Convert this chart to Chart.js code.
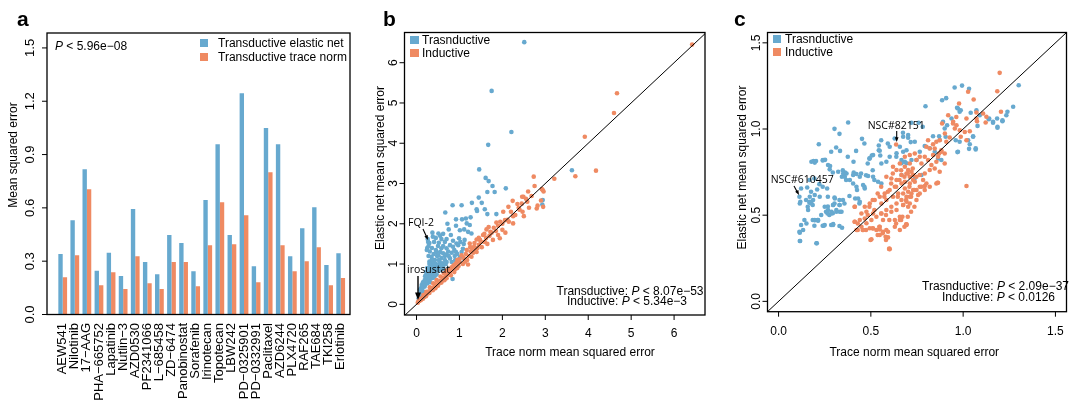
<!DOCTYPE html>
<html><head><meta charset="utf-8">
<script src="https://cdn.jsdelivr.net/npm/chart.js@4/dist/chart.umd.min.js"></script>
<style>
body{margin:0;background:#fff;width:1071px;height:403px;overflow:hidden;position:relative}
canvas{position:absolute;left:0;top:0}
</style></head><body>
<canvas id="ca" width="1071" height="403"></canvas>
<canvas id="cb" width="1071" height="403"></canvas>
<canvas id="cc" width="1071" height="403"></canvas>
<script>
// ---------- DATA ----------
const drugs = ["AEW541","Nilotinib","17−AAG","PHA−665752","Lapatinib","Nutlin−3","AZD0530","PF2341066","L−685458","ZD−6474","Panobinostat","Sorafenib","Irinotecan","Topotecan","LBW242","PD−0325901","PD−0332991","Paclitaxel","AZD6244","PLX4720","RAF265","TAE684","TKI258","Erlotinib"];
const elasticNet = [0.34,0.53,0.818,0.246,0.347,0.216,0.593,0.295,0.227,0.447,0.403,0.244,0.644,0.958,0.447,1.245,0.272,1.05,0.958,0.328,0.486,0.604,0.278,0.345];
const traceNorm  = [0.21,0.334,0.705,0.165,0.238,0.144,0.328,0.176,0.144,0.295,0.295,0.159,0.39,0.632,0.396,0.559,0.182,0.80,0.39,0.244,0.30,0.379,0.165,0.205];
const yTicksA = [0,0.3,0.6,0.9,1.2,1.5];
const ticksB = [0,1,2,3,4,5,6];
const ticksC = [0,0.5,1,1.5];
const identityLine = [-1, 8];

const bTransductive = [[2.51,6.51],[1.75,5.30],[2.21,4.28],[1.67,3.96],[1.46,3.35],[1.61,3.14],[1.68,3.06],[1.77,2.94],[1.65,2.79],[1.82,2.79],[2.08,2.88],[1.45,2.65],[3.62,3.33],[2.94,2.59],[2.93,2.48],
[1.29,2.52],[1.52,2.52],[0.84,2.46],[1.05,2.46],[1.40,2.36],[1.59,2.36],[1.41,2.32],[1.65,2.24],[1.86,2.24],[0.67,2.28],[1.26,2.16],[0.92,2.11],[1.06,2.11],[1.15,2.13],[1.17,2.01],[1.24,1.97],[0.72,2.00],[0.92,1.95],[1.01,1.84],[0.75,1.86],[1.11,1.86],[1.20,1.80],[1.28,1.76],[0.51,1.76],[0.62,1.75],[0.37,1.78],[0.80,1.72],[0.99,1.64],[0.85,1.58],[0.27,1.55],[0.41,1.55],[0.52,1.53],[0.66,1.55],[0.93,1.51],[0.78,1.47],[0.58,1.39],[0.70,1.39],[0.45,1.35],[0.85,1.43],[0.97,1.47],[0.31,1.31],[0.35,1.18],[0.51,1.22],[0.62,1.27],[0.74,1.31],[0.43,1.10],[0.54,1.06],[0.66,1.10],[0.30,1.06],[0.78,1.14],[0.89,1.20],[1.01,1.17],[0.84,0.63],[0.43,0.93],[0.51,0.85],[0.35,0.81],[0.27,0.73],[0.19,0.60],[0.27,0.60],[0.12,0.48],[0.19,0.44],[0.08,0.36],[0.16,0.31],[0.62,0.93],[0.74,0.89],
[0.30,1.00],[0.35,1.02],[0.40,1.05],[0.45,1.00],[0.50,0.98],[0.55,1.00],[0.60,1.02],[0.25,0.90],[0.32,0.92],[0.38,0.95],[0.48,0.90],[0.56,0.92],[0.22,0.80],[0.30,0.85],[0.40,0.85],[0.45,0.82],[0.55,0.86],[0.60,0.84],[0.20,0.70],[0.25,0.68],[0.32,0.72],[0.38,0.75],[0.42,0.70],[0.47,0.74],[0.15,0.55],[0.22,0.58],[0.30,0.62],[0.35,0.65],[0.40,0.66],[0.10,0.40],[0.14,0.42],[0.20,0.50],[0.25,0.52],[0.32,0.55],[0.06,0.25],[0.10,0.28],[0.13,0.36],[0.05,0.15],[0.08,0.20],[0.36,1.12],[0.28,1.20],[0.40,1.25],[0.46,1.30],[0.55,1.30],[0.66,1.20],[0.70,1.24],[0.75,1.20],[0.82,1.28],[0.92,1.30],[0.24,1.35],[0.36,1.40],[0.50,1.45],[0.62,1.45],[0.70,1.62],[0.58,1.62],[0.45,1.65],[0.55,1.70],[0.25,1.40],[0.30,1.52],[0.26,1.62],[0.38,1.68],[0.28,1.45],[0.68,1.00],[0.70,1.05],[0.82,1.05],[0.90,1.10],[0.95,1.25],[1.05,1.30],[1.08,1.38],[0.88,1.35],[1.02,1.55],[1.10,1.50],[1.12,1.60],[0.48,1.20],[0.58,1.15],[0.52,1.10]];

const bInductive = [[6.42,6.45],[4.67,5.24],[4.60,4.75],[3.92,4.16],[4.18,3.32],[3.70,3.18],[3.21,3.12],[2.73,3.17],[2.75,2.94],[2.92,2.86],[2.94,2.84],[2.46,2.67],[2.68,2.69],[2.49,2.67],[2.95,2.42],[2.80,2.38],[2.24,2.57],[2.47,2.30],[2.50,2.19],[2.25,2.01],[2.07,1.78],[1.94,1.64],[2.25,2.19],[2.02,2.30],[2.14,2.42],[2.35,2.49],[2.06,2.09],[1.86,2.03],[1.63,1.86],[1.72,1.80],[1.55,1.72],[1.40,1.61],[1.59,1.55],[1.24,1.51],[1.34,1.43],[1.17,1.35],[1.26,1.31],[1.05,1.22],[1.13,1.06],[1.20,0.99],[0.95,1.10],[0.89,0.98],[0.82,0.92],[0.71,0.84],[0.64,0.77],[0.56,0.69],[0.47,0.60],[0.39,0.52],[0.31,0.42],[0.23,0.31],[0.16,0.23],[0.08,0.13],[0.04,0.07],
[1.95,2.05],[1.80,1.90],[1.70,1.70],[1.50,1.55],[1.45,1.48],[1.38,1.35],[1.30,1.38],[1.10,1.15],[1.00,1.05],[0.98,0.95],[0.90,0.88],[0.85,0.90],[0.78,0.80],[0.75,0.74],[0.68,0.70],[0.62,0.66],[0.60,0.60],[0.55,0.58],[0.52,0.52],[0.45,0.50],[0.42,0.44],[0.36,0.40],[0.33,0.35],[0.28,0.32],[0.25,0.26],[0.20,0.24],[0.18,0.18],[0.12,0.15],[0.10,0.10],[0.06,0.08],[0.03,0.04],[1.15,1.25],[1.22,1.20],[1.32,1.28],[1.42,1.40],[1.48,1.60],[1.62,1.65],[1.75,1.78],[1.85,1.82],[1.68,1.92],[1.90,1.95],[2.00,2.00],[2.12,2.10],[2.20,2.30],[2.30,2.22],[2.38,2.40],[2.45,2.50],[2.58,2.55],[2.60,2.80],[2.55,2.62],[1.78,1.60],[1.65,1.50],[1.52,1.42],[1.40,1.30],[1.28,1.18],[1.18,1.10],[1.08,1.00],[0.95,0.90],[0.88,0.80],[0.80,0.72],[0.70,0.65],[0.65,0.60],[0.58,0.54],[0.50,0.46],[0.44,0.40],[0.38,0.35],[0.30,0.28],[0.22,0.20],[0.15,0.14],[1.00,1.12],[0.92,1.02],[0.86,0.96],[0.78,0.88],[0.72,0.78],[1.25,1.42],[1.35,1.52],[1.45,1.65],[1.58,1.75],[2.40,2.35],[2.62,2.40],[2.82,2.45],[2.90,2.58],[2.96,2.80],[1.90,1.72],[2.00,1.85],[2.15,2.05]];

const cTransductive = [[0.377,1.038],[0.303,1.001],[0.330,0.972],[0.218,0.912],[0.285,0.868],[0.312,0.893],[0.333,0.873],[0.420,0.873],[0.452,0.943],[0.465,0.916],[0.505,0.846],[0.543,0.904],[0.543,0.877],[0.556,0.935],[0.551,0.846],[0.592,0.916],[0.375,0.839],[0.406,0.810],[0.189,0.814],[0.203,0.814],[0.239,0.818],[0.252,0.821],[0.279,0.785],[0.294,0.748],[0.348,0.761],[0.360,0.748],[0.407,0.748],[0.447,0.742],[0.474,0.732],[0.519,0.704],[0.465,0.665],[0.425,0.646],[0.384,0.611],[0.415,0.597],[0.438,0.568],[0.357,0.568],[0.330,0.559],[0.303,0.568],[0.267,0.550],[0.257,0.520],[0.231,0.501],[0.275,0.501],[0.294,0.511],[0.176,0.636],[0.209,0.649],[0.239,0.665],[0.263,0.655],[0.155,0.661],[0.167,0.704],[0.194,0.713],[0.221,0.680],[0.122,0.655],[0.113,0.607],[0.118,0.578],[0.149,0.588],[0.167,0.572],[0.185,0.559],[0.158,0.549],[0.140,0.472],[0.122,0.443],[0.113,0.404],[0.185,0.472],[0.212,0.472],[0.194,0.439],[0.239,0.439],[0.285,0.443],[0.117,0.350],[0.207,0.337],[0.330,0.437],[0.267,0.607],[0.303,0.603],[0.330,0.588],[0.343,0.723],[0.366,0.704],[0.492,0.828],[0.510,0.761],[0.483,0.800],
[0.954,1.241],[0.994,1.252],[1.032,1.233],[0.908,1.179],[0.886,1.167],[0.796,1.132],[0.967,1.123],[0.987,1.109],[1.041,1.094],[1.072,1.109],[1.301,1.254],[1.271,1.129],[1.240,1.100],[1.213,1.045],[1.184,1.061],[1.162,1.036],[1.139,1.057],[1.186,1.007],[1.078,1.018],[1.054,0.958],[1.027,0.935],[0.960,0.935],[1.032,0.885],[1.068,0.881],[0.969,0.866],[0.891,1.042],[0.913,1.022],[0.781,1.013],[0.759,1.036],[0.720,1.036],[0.674,0.978],[0.702,0.949],[0.738,0.926],[0.716,0.924],[0.792,0.901],[0.693,0.877],[0.675,0.868],[0.837,0.958],[0.870,0.958],[0.846,0.868],[0.684,0.810],[0.720,0.820],[0.666,0.733],[0.774,0.733],[0.738,0.714],[0.864,0.829],[0.882,0.820],
[0.178,0.810],[0.196,0.805],[0.241,0.820],[0.268,0.791],[0.277,0.766],[0.323,0.752],[0.350,0.742],[0.368,0.742],[0.359,0.723],[0.404,0.733],[0.422,0.739],[0.386,0.704],[0.404,0.684],[0.422,0.665],[0.467,0.655],[0.458,0.675],[0.440,0.723],[0.485,0.727],[0.512,0.723],[0.539,0.694],[0.557,0.684],[0.431,0.597],[0.440,0.578],[0.169,0.607],[0.187,0.588],[0.178,0.568],[0.223,0.607],[0.250,0.549],[0.268,0.530],[0.295,0.559],[0.313,0.530],[0.286,0.510],[0.332,0.520],[0.196,0.472],[0.214,0.472],[0.250,0.443],[0.295,0.443],[0.205,0.337],[0.494,0.830],[0.602,0.839],[0.639,0.859],[0.666,0.820],[0.557,0.800],[0.584,0.810],
[0.115,0.568],[0.169,0.578],[0.196,0.617],[0.115,0.398],[0.133,0.414],[0.151,0.452],[0.115,0.350],[0.196,0.471],[0.214,0.468],[0.245,0.439],[0.296,0.448],[0.344,0.427],[0.265,0.510],[0.287,0.520],[0.314,0.520],[0.341,0.520],[0.331,0.559],[0.296,0.559],[0.349,0.588],[0.305,0.597],[0.160,0.530],
[0.675,0.955],[0.702,0.965],[0.629,0.945],[0.657,0.897],[0.602,0.897],[0.548,0.874],[0.512,0.849],[0.638,0.839],[0.666,0.801],[0.693,0.801],[0.747,0.820],[0.765,0.868],[0.819,0.888],[0.873,0.936],[0.905,0.955],[0.981,0.926],[1.036,0.912],[1.068,0.888],[0.972,0.868],[0.900,1.003],[0.937,1.061],[0.972,1.119],[0.981,1.100],[1.054,0.955],[1.090,1.080],[1.141,1.061],[1.162,1.042],[1.186,1.013],[1.213,1.051],[1.234,1.080]];

const cInductive = [[0.637,0.910],[0.600,0.307],[0.412,0.549],[0.429,0.452],[0.456,0.414],[0.474,0.414],[0.510,0.424],[0.546,0.433],[0.483,0.501],[0.519,0.530],[0.556,0.510],[0.582,0.501],[0.600,0.472],[0.537,0.385],[0.564,0.395],[0.582,0.356],[0.637,0.452],[0.664,0.472],[0.682,0.433],[0.700,0.491],[0.718,0.520],[0.736,0.549],[0.492,0.549],[0.510,0.588],[0.537,0.626],[0.556,0.665],[0.573,0.607],[0.592,0.636],[0.610,0.684],[0.637,0.665],[0.655,0.704],[0.682,0.723],[0.700,0.742],[0.664,0.761],[0.727,0.771],[0.619,0.742],[0.646,0.607],[0.691,0.588],[0.718,0.607],[0.736,0.646],[0.709,0.665],
[1.198,1.326],[1.185,1.219],[1.205,1.100],[1.122,1.038],[1.075,1.045],[1.108,1.090],[1.072,1.096],[1.027,1.216],[1.057,1.171],[0.978,1.148],[0.919,1.080],[0.886,1.032],[0.946,1.042],[0.964,1.022],[0.955,1.003],[0.982,0.993],[1.009,0.983],[1.036,0.987],[1.018,0.935],[0.987,0.955],[0.901,0.974],[0.927,0.951],[0.909,0.926],[0.873,0.935],[0.855,0.926],[0.837,0.912],[0.810,0.935],[0.801,0.897],[0.819,0.887],[0.846,0.887],[0.882,0.877],[0.900,0.858],[0.870,0.858],[0.837,0.849],[0.792,0.839],[0.765,0.839],[0.738,0.858],[0.711,0.849],[0.684,0.839],[0.747,0.820],[0.774,0.800],[0.810,0.820],[0.828,0.791],[0.855,0.810],[0.846,0.771],[0.873,0.752],[0.819,0.762],[0.792,0.742],[0.765,0.733],[0.729,0.733],[0.702,0.762],[0.711,0.723],[0.684,0.694],[0.738,0.694],[0.765,0.665],[0.792,0.669],[0.729,0.646],[0.702,0.636],[0.675,0.626],[0.711,0.607],[0.756,0.617],[0.693,0.578],[0.675,0.559],[0.702,0.549],[1.018,0.669],[0.861,0.688],[0.671,0.491],[0.693,0.447],[0.657,0.472],[1.126,1.071],[0.963,1.070],[1.018,1.061],[1.072,1.061],[0.945,1.032],
[0.584,0.723],[0.611,0.713],[0.639,0.704],[0.666,0.733],[0.693,0.742],[0.720,0.752],[0.747,0.723],[0.783,0.704],[0.801,0.684],[0.774,0.665],[0.747,0.646],[0.720,0.626],[0.693,0.607],[0.666,0.588],[0.639,0.568],[0.611,0.549],[0.584,0.530],[0.557,0.510],[0.530,0.491],[0.503,0.472],[0.476,0.453],[0.449,0.433],[0.422,0.414],[0.458,0.414],[0.494,0.424],[0.530,0.414],[0.548,0.385],[0.593,0.371],[0.503,0.360],[0.602,0.303],[0.693,0.443],[0.657,0.491],[0.630,0.472],[0.611,0.520],[0.639,0.530],[0.675,0.559],[0.711,0.568],[0.747,0.588],[0.765,0.626],[0.792,0.646],[0.819,0.665],[0.855,0.684],[0.900,0.800],[0.864,0.839],[0.882,0.868],[0.711,0.800],[0.684,0.781],[0.657,0.800],[0.620,0.781],[0.639,0.762],[0.666,0.684],[0.630,0.665],[0.602,0.646],[0.575,0.626],[0.548,0.607],[0.521,0.588],[0.494,0.568],[0.467,0.549],[0.476,0.520],[0.512,0.510],[0.557,0.568],[0.584,0.588],[0.620,0.607],[0.648,0.626],[0.684,0.655],[0.711,0.684],[0.729,0.704],[0.413,0.549],[0.449,0.510],[0.440,0.472],[0.467,0.481],[0.413,0.462],[0.548,0.433],[0.584,0.414],[0.630,0.433],[0.657,0.414],[0.566,0.472],
[0.412,0.462],[0.429,0.414],[0.498,0.356],[0.512,0.423],[0.548,0.417],[0.566,0.404],[0.593,0.404],[0.599,0.304],[0.580,0.375],[0.692,0.447],[0.864,0.688]];

// ---------- STYLE / LAYOUT ----------
const FONT = '"Liberation Sans", Arial, Helvetica, sans-serif';
const ANN = '"Open Sans", "DejaVu Sans", sans-serif';
const BLUE = '#67a9cf', ORANGE = '#ef8a62';
const W = 1071, H = 403;
const AREA_A = {left:47, top:33, right:350, bottom:314.5};
const AREA_B = {left:404.5, top:32.5, right:705, bottom:315};
const AREA_C = {left:767.5, top:32.5, right:1066.5, bottom:311.7};
const pad = a => ({left:a.left, top:a.top, right:W-a.right, bottom:H-a.bottom});

function text(ctx, s, x, y, font, align, base, rot) {
  ctx.save(); ctx.font = font; ctx.fillStyle = '#000';
  ctx.textAlign = align || 'center'; ctx.textBaseline = base || 'middle';
  ctx.translate(x, y); if (rot) ctx.rotate(rot);
  ctx.fillText(s, 0, 0); ctx.restore();
}
function rich(ctx, parts, x, y, size, align) {
  ctx.save(); ctx.textBaseline = 'middle'; ctx.textAlign = 'left'; ctx.fillStyle = '#000';
  let w = 0;
  parts.forEach(p => { ctx.font = (p[1] ? 'italic ' : '') + size + 'px ' + FONT; w += ctx.measureText(p[0]).width; });
  let cx = align === 'center' ? x - w/2 : (align === 'right' ? x - w : x);
  parts.forEach(p => { ctx.font = (p[1] ? 'italic ' : '') + size + 'px ' + FONT; ctx.fillText(p[0], cx, y); cx += ctx.measureText(p[0]).width; });
  ctx.restore();
}
function arrow(ctx, x1, y1, x2, y2, head, lw) {
  const a = Math.atan2(y2 - y1, x2 - x1);
  ctx.save(); ctx.strokeStyle = '#000'; ctx.fillStyle = '#000'; ctx.lineWidth = lw || 1.2;
  ctx.beginPath(); ctx.moveTo(x1, y1); ctx.lineTo(x2 - head*0.7*Math.cos(a), y2 - head*0.7*Math.sin(a)); ctx.stroke();
  ctx.beginPath(); ctx.moveTo(x2, y2);
  ctx.lineTo(x2 - head*Math.cos(a - 0.38), y2 - head*Math.sin(a - 0.38));
  ctx.lineTo(x2 - head*Math.cos(a + 0.38), y2 - head*Math.sin(a + 0.38));
  ctx.closePath(); ctx.fill(); ctx.restore();
}
function frame(ctx, ca) {
  ctx.save(); ctx.strokeStyle = '#000'; ctx.lineWidth = 1.3;
  ctx.strokeRect(ca.left, ca.top, ca.right - ca.left, ca.bottom - ca.top); ctx.restore();
}
function yAxis(ctx, chart, ticks, labelX, size, fmt) {
  const s = chart.scales.y, ca = chart.chartArea;
  ctx.save(); ctx.strokeStyle = '#000'; ctx.lineWidth = 1;
  ticks.forEach(v => {
    const y = s.getPixelForValue(v);
    ctx.beginPath(); ctx.moveTo(ca.left, y); ctx.lineTo(ca.left - 5, y); ctx.stroke();
    text(ctx, fmt(v), labelX, y, size + 'px ' + FONT, 'center', 'middle', -Math.PI/2);
  });
  ctx.restore();
}
function xAxis(ctx, chart, ticks, labelY, size, fmt) {
  const s = chart.scales.x, ca = chart.chartArea;
  ctx.save(); ctx.strokeStyle = '#000'; ctx.lineWidth = 1;
  ticks.forEach(v => {
    const x = s.getPixelForValue(v);
    ctx.beginPath(); ctx.moveTo(x, ca.bottom); ctx.lineTo(x, ca.bottom + 5); ctx.stroke();
    text(ctx, fmt(v), x, labelY, size + 'px ' + FONT, 'center', 'middle');
  });
  ctx.restore();
}
function legendSq(ctx, x, y, w, h, color, label, tx, ty, size) {
  ctx.save(); ctx.fillStyle = color; ctx.fillRect(x, y, w, h); ctx.restore();
  text(ctx, label, tx, ty, size + 'px ' + FONT, 'left', 'middle');
}
const baseOpts = (area, xr, yr) => ({
  responsive: false, animation: false, events: [],
  layout: {padding: pad(area)},
  plugins: {legend: {display: false}, tooltip: {enabled: false}},
  scales: {
    x: {type: 'linear', min: xr[0], max: xr[1], display: false, offset: false},
    y: {type: 'linear', min: yr[0], max: yr[1], display: false}
  }
});

// ---------- PANEL A ----------
const panelA = {id: 'pa', afterDatasetsDraw(chart) {
  const ctx = chart.ctx, ca = chart.chartArea, xs = chart.scales.x;
  frame(ctx, ca);
  yAxis(ctx, chart, yTicksA, 30, 13, v => v.toFixed(1));
  drugs.forEach((d, i) => {
    text(ctx, d, xs.getPixelForValue(i + 1), 323, '13px ' + FONT, 'right', 'middle', -Math.PI/2);
  });
  text(ctx, 'Mean squared error', 14, 155, '12px ' + FONT, 'center', 'middle', -Math.PI/2);
  text(ctx, 'a', 17, 26, 'bold 21px ' + FONT, 'left', 'alphabetic');
  legendSq(ctx, 200, 39, 8, 8, BLUE, 'Transductive elastic net', 218, 43.5, 12);
  legendSq(ctx, 200, 53, 8, 8, ORANGE, 'Transductive trace norm', 218, 57.5, 12);
  rich(ctx, [['P', true], [' < 5.96e−08', false]], 55, 46.5, 12, 'left');
}};
new Chart(document.getElementById('ca'), {
  type: 'bar',
  data: {datasets: [
    {label: 'Transductive elastic net', data: drugs.map((d, i) => ({x: i + 1, y: elasticNet[i]})), backgroundColor: BLUE, borderWidth: 0, categoryPercentage: 0.725, barPercentage: 1},
    {label: 'Transductive trace norm', data: drugs.map((d, i) => ({x: i + 1, y: traceNorm[i]})), backgroundColor: ORANGE, borderWidth: 0, categoryPercentage: 0.725, barPercentage: 1}
  ]},
  options: baseOpts(AREA_A, [-0.30, 24.77], [0, 1.584]),
  plugins: [panelA]
});

// ---------- PANEL B ----------
const scatterSets = (trans, ind) => [
  {label: 'identity', data: identityLine.map(v => ({x: v, y: v})), showLine: true, borderColor: '#000', borderWidth: 1, pointRadius: 0, order: 0},
  {label: 'Inductive', data: ind.map(p => ({x: p[0], y: p[1]})), backgroundColor: ORANGE, borderWidth: 0, pointRadius: 2.3, order: 1},
  {label: 'Trasnductive', data: trans.map(p => ({x: p[0], y: p[1]})), backgroundColor: BLUE, borderWidth: 0, pointRadius: 2.3, order: 2}
];
const panelB = {id: 'pb', afterDatasetsDraw(chart) {
  const ctx = chart.ctx, ca = chart.chartArea;
  frame(ctx, ca);
  yAxis(ctx, chart, ticksB, 393.5, 12, v => String(v));
  xAxis(ctx, chart, ticksB, 334, 12, v => String(v));
  text(ctx, 'Elastic net mean squared error', 381, 168, '12px ' + FONT, 'center', 'middle', -Math.PI/2);
  text(ctx, 'Trace norm mean squared error', 570, 353, '12px ' + FONT, 'center', 'middle');
  text(ctx, 'b', 383, 26, 'bold 21px ' + FONT, 'left', 'alphabetic');
  legendSq(ctx, 410, 36, 9, 8, BLUE, 'Trasnductive', 422, 41, 12);
  legendSq(ctx, 410, 49, 9, 8, ORANGE, 'Inductive', 422, 54, 12);
  rich(ctx, [['Transductive: ', false], ['P', true], [' < 8.07e−53', false]], 630, 292, 12, 'center');
  rich(ctx, [['Inductive: ', false], ['P', true], [' < 5.34e−3', false]], 627, 301.7, 12, 'center');
  text(ctx, 'FQI-2', 408, 223.5, '10.5px ' + ANN, 'left', 'middle');
  arrow(ctx, 423, 229, 428, 240, 5, 1.1);
  text(ctx, 'irosustat', 407, 270, '10.5px ' + ANN, 'left', 'middle');
  arrow(ctx, 418, 276, 418, 300, 8, 1.4);
}};
new Chart(document.getElementById('cb'), {
  type: 'scatter',
  data: {datasets: scatterSets(bTransductive, bInductive)},
  options: baseOpts(AREA_B, [-0.28, 6.72], [-0.265, 6.75]),
  plugins: [panelB]
});

// ---------- PANEL C ----------
const panelC = {id: 'pc', afterDatasetsDraw(chart) {
  const ctx = chart.ctx, ca = chart.chartArea;
  frame(ctx, ca);
  yAxis(ctx, chart, ticksC, 757, 12, v => v.toFixed(1));
  xAxis(ctx, chart, ticksC, 331.7, 12, v => v.toFixed(1));
  text(ctx, 'Elastic net mean squared error', 742.7, 167.5, '12px ' + FONT, 'center', 'middle', -Math.PI/2);
  text(ctx, 'Trace norm mean squared error', 914.3, 352.7, '12px ' + FONT, 'center', 'middle');
  text(ctx, 'c', 734, 26, 'bold 21px ' + FONT, 'left', 'alphabetic');
  legendSq(ctx, 773, 35, 8, 8, BLUE, 'Trasnductive', 785, 40, 12);
  legendSq(ctx, 773, 48, 8, 8, ORANGE, 'Inductive', 785, 52.5, 12);
  rich(ctx, [['Trasnductive: ', false], ['P', true], [' < 2.09e−37', false]], 995.5, 286.7, 12, 'center');
  rich(ctx, [['Inductive: ', false], ['P', true], [' < 0.0126', false]], 998.5, 297.3, 12, 'center');
  text(ctx, 'NSC#82151', 867.7, 126, '10.5px ' + ANN, 'left', 'middle');
  arrow(ctx, 896.7, 131, 896.7, 142, 5, 1.1);
  text(ctx, 'NSC#610457', 770.7, 180, '10.5px ' + ANN, 'left', 'middle');
  arrow(ctx, 794, 186, 799, 195, 5, 1.1);
}};
new Chart(document.getElementById('cc'), {
  type: 'scatter',
  data: {datasets: scatterSets(cTransductive, cInductive)},
  options: baseOpts(AREA_C, [-0.06, 1.56], [-0.06, 1.56]),
  plugins: [panelC]
});
</script>
</body></html>
